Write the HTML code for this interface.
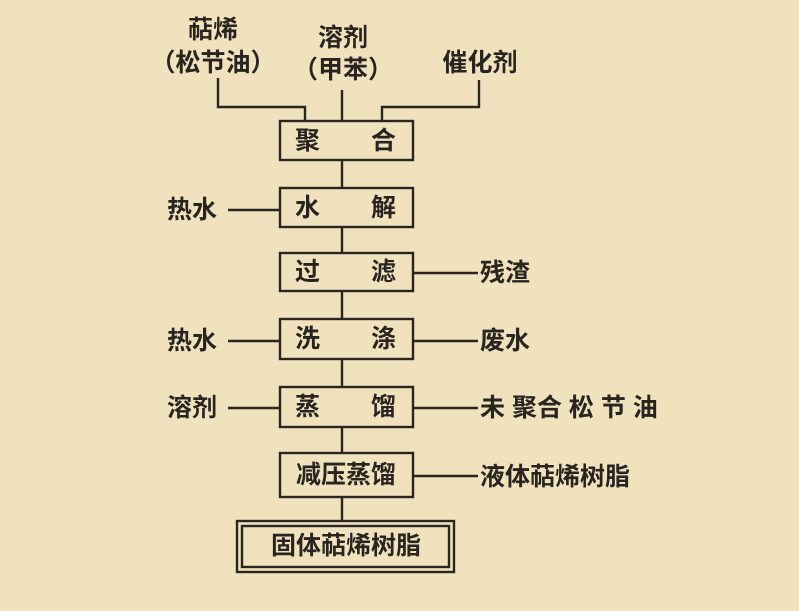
<!DOCTYPE html>
<html><head><meta charset="utf-8"><style>
html,body{margin:0;padding:0;background:#efe2bd;}
svg{display:block}
text{font-family:"Liberation Sans","Noto Sans CJK SC",sans-serif;font-size:25px;font-weight:bold;fill:#2a2420;dominant-baseline:central}
</style></head><body>
<svg width="799" height="611" viewBox="0 0 799 611">
<rect width="799" height="611" fill="#efe2bd"/>
<g stroke="#2a2520" stroke-width="2.4" fill="none">
<polyline points="218,78 218,107 305,107 305,121"/>
<line x1="342" y1="90" x2="342" y2="121"/>
<polyline points="479,80 479,107 382,107 382,121"/>
<rect x="280" y="121" width="133" height="39"/>
<rect x="280" y="188" width="133" height="39"/>
<rect x="280" y="253" width="133" height="38"/>
<rect x="280" y="319" width="133" height="40"/>
<rect x="280" y="387" width="133" height="40"/>
<rect x="280" y="453" width="133" height="44"/>
<rect x="237" y="521" width="217" height="51"/>
<rect x="242" y="526" width="207" height="41"/>
<line x1="342" y1="160" x2="342" y2="188"/>
<line x1="342" y1="227" x2="342" y2="253"/>
<line x1="342" y1="291" x2="342" y2="319"/>
<line x1="342" y1="359" x2="342" y2="387"/>
<line x1="342" y1="427" x2="342" y2="453"/>
<line x1="342" y1="497" x2="342" y2="521"/>
<line x1="228" y1="210" x2="280" y2="210"/>
<line x1="228" y1="341" x2="280" y2="341"/>
<line x1="228" y1="408" x2="280" y2="408"/>
<line x1="413" y1="273" x2="478" y2="273"/>
<line x1="413" y1="341" x2="478" y2="341"/>
<line x1="413" y1="408" x2="478" y2="408"/>
<line x1="413" y1="476" x2="478" y2="476"/>
</g>
<g>
<text x="213" y="30" text-anchor="middle">萜烯</text>
<text x="213" y="63" text-anchor="middle">（松节油）</text>
<text x="343" y="38" text-anchor="middle">溶剂</text>
<text x="343" y="70" text-anchor="middle">（甲苯）</text>
<text x="480" y="63" text-anchor="middle">催化剂</text>
<text x="295" y="141">聚</text><text x="371" y="141">合</text>
<text x="295" y="208">水</text><text x="371" y="208">解</text>
<text x="295" y="272">过</text><text x="371" y="272">滤</text>
<text x="295" y="339">洗</text><text x="371" y="339">涤</text>
<text x="295" y="407">蒸</text><text x="371" y="407">馏</text>
<text x="346" y="475" text-anchor="middle">减压蒸馏</text>
<text x="346" y="546" text-anchor="middle">固体萜烯树脂</text>
<text x="167" y="210">热水</text>
<text x="167" y="341">热水</text>
<text x="167" y="408">溶剂</text>
<text x="480" y="273">残渣</text>
<text x="480" y="341">废水</text>
<text x="480" y="408">未 聚合 松 节 油</text>
<text x="480" y="477">液体萜烯树脂</text>
</g>
</svg>
</body></html>
